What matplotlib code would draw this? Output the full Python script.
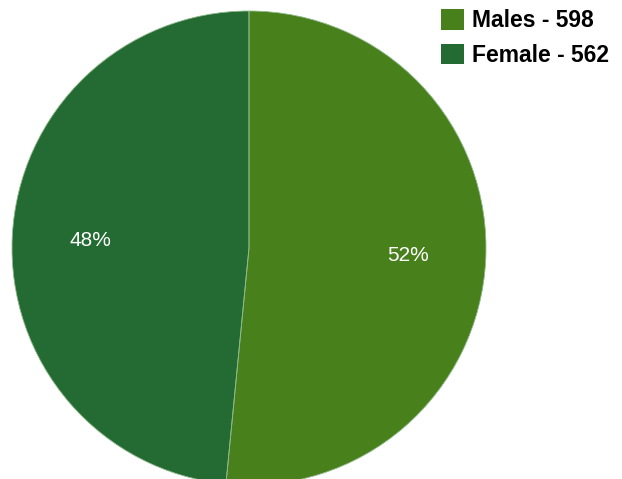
import matplotlib.pyplot as plt
from matplotlib.patches import Patch

labels = ["Males", "Female"]
counts = [598, 562]
colors = ["#48801c", "#236b32"]

W, H = 622, 479
fig = plt.figure(figsize=(W / 100, H / 100), dpi=100)
plt.rcParams['font.family'] = ['Liberation Sans', 'DejaVu Sans']

# pie box in pixels: center (249, 248), radius 237
cx, cy, r = 249, 248, 237
ax = fig.add_axes([(cx - r) / W, (H - cy - r) / H, 2 * r / W, 2 * r / H])
wedges, texts, autotexts = ax.pie(counts, colors=colors, startangle=90, counterclock=False,
                                  autopct='%1.0f%%', pctdistance=0.67, radius=1,
                                  wedgeprops=dict(edgecolor='none'),
                                  textprops=dict(color='white', fontsize=15))
# thin light divider between the slices
ax.pie(counts, colors=['none', 'none'], startangle=90, counterclock=False, radius=1,
       wedgeprops=dict(edgecolor='#8fb88a', linewidth=0.6, fill=False))
ax.set_xlim(-1, 1)
ax.set_ylim(-1, 1)
ax.set_aspect('equal')
ax.axis('off')

handles = [Patch(facecolor=c, edgecolor='none') for c in colors]
leg_labels = [f"{l} - {n}" for l, n in zip(labels, counts)]
fig.legend(handles, leg_labels, loc='upper left', bbox_to_anchor=(441 / W, 1 - 9 / H),
           frameon=False, borderpad=0, borderaxespad=0, handlelength=1.0, handleheight=1.0,
           handletextpad=0.35, labelspacing=0.5, prop=dict(weight='bold', size=16.5))

fig.savefig("out.png", dpi=100)
